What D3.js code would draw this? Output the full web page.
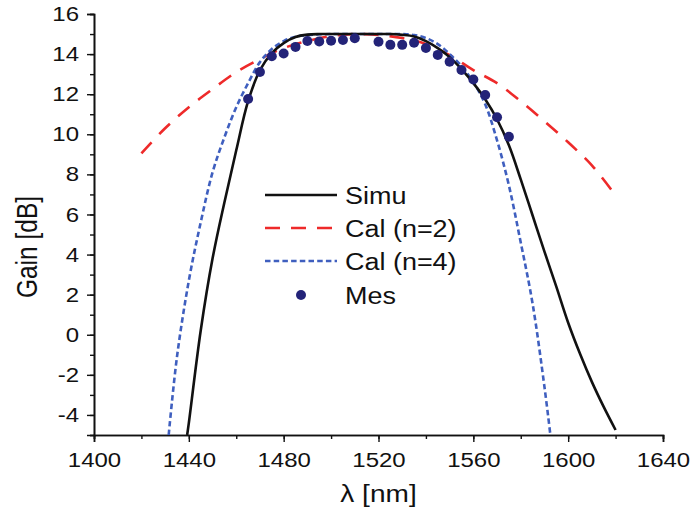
<!DOCTYPE html>
<html><head><meta charset="utf-8">
<script src="https://cdn.jsdelivr.net/npm/d3@7"></script>
<style>body{margin:0;background:#fff}svg{display:block}text{font-family:"Liberation Sans",Arial,sans-serif;fill:#111}</style>
</head><body>
<svg id="c" width="692" height="518"></svg>
<script>
// ---- data ----
const simuX = [1439.3,1440,1445,1450,1455,1460,1465,1470,1475,1480,1485,1490,1495,1500,1510,1520,1525,1530,1535,1540,1545,1550,1555,1560,1565,1570,1575,1580,1585,1590,1595,1600,1605,1610,1615,1620];
const simuY = [-5,-4.4,0.2,3.8,6.6,9.2,11.65,13.2,14.05,14.55,14.85,14.97,15.0,15.0,15.0,15.0,15.0,14.96,14.88,14.65,14.3,13.85,13.25,12.55,11.75,10.75,9.45,7.75,5.95,4.15,2.4,0.6,-0.95,-2.35,-3.6,-4.75];
const cal2X = [1420,1430,1440,1450,1460,1470,1480,1490,1500,1510,1520,1530,1540,1550,1560,1570,1580,1590,1600,1610,1620];
const cal2Y = [9.05,10.3,11.35,12.25,13.1,13.75,14.3,14.65,14.9,15.0,14.95,14.8,14.5,13.95,13.2,12.55,11.65,10.65,9.6,8.45,6.95];
const cal4X = [1431.5,1435,1440,1445,1450,1455,1460,1465,1470,1475,1480,1485,1490,1500,1510,1520,1530,1535,1540,1545,1550,1555,1560,1565,1570,1575,1580,1585,1590,1592.5];
const cal4Y = [-5,-1.1,2.7,5.6,8.1,9.85,11.35,12.55,13.6,14.25,14.65,14.87,14.95,15.0,15.0,15.0,15.0,14.95,14.8,14.5,14.0,13.4,12.6,11.5,9.7,7.45,4.6,1.55,-2.6,-5];
const mesX = [1465,1470,1475,1480,1485,1490,1495,1500,1505,1510,1520,1525,1530,1535,1540,1545,1550,1555,1560,1565,1570,1575];
const mesY = [11.76,13.11,13.89,14.03,14.36,14.65,14.63,14.67,14.70,14.79,14.62,14.46,14.46,14.57,14.30,13.96,13.62,13.21,12.73,11.96,10.85,9.88];
const xTicks = [1400,1440,1480,1520,1560,1600,1640];
const yTicks = [-4,-2,0,2,4,6,8,10,12,14,16];
const legendLabels = ["Simu","Cal (n=2)","Cal (n=4)","Mes"];

// ---- layout ----
const svg = d3.select("#c");
const L = 94, R = 663, T = 14, B = 435;
const SX = 1.17; // horizontal stretch of the original lettering
const x = d3.scaleLinear().domain([1400,1640]).range([L,R]);
const y = d3.scaleLinear().domain([-5,16]).range([B,T]);

svg.append("defs").append("clipPath").attr("id","clip")
  .append("rect").attr("x",L).attr("y",T-2).attr("width",R-L+2).attr("height",B-T+2);

// axes
const fmt = d => String(d);
const xMinor = d3.range(1400,1641,20);
const yMinor = d3.range(-5,16.01,1);
const gx = svg.append("g").attr("transform",`translate(0,${B})`);
gx.call(d3.axisBottom(x).tickValues(xMinor).tickSize(4).tickFormat(""));
gx.append("g").call(d3.axisBottom(x).tickValues(xTicks).tickSize(7).tickPadding(10).tickFormat(fmt));
const gy = svg.append("g").attr("transform",`translate(${L},0)`);
gy.call(d3.axisLeft(y).tickValues(yMinor).tickSize(4).tickFormat(""));
gy.append("g").call(d3.axisLeft(y).tickValues(yTicks).tickSize(7).tickPadding(8).tickFormat(fmt));
svg.selectAll(".domain").attr("stroke","#111").attr("stroke-width",1.6);
svg.selectAll(".tick line").attr("stroke","#111").attr("stroke-width",1.4);
svg.selectAll(".tick text").attr("font-size",20.5).attr("fill","#111")
  .style("font-family",'"Liberation Sans",Arial,sans-serif')
  .each(function(){
    const t = d3.select(this);
    const ox = +t.attr("x") || 0;
    t.attr("x", ox/SX).attr("transform",`scale(${SX},1)`);
  });
gx.selectAll("text").attr("dy","0.72em");

// axis titles
svg.append("text").attr("transform",`translate(${(L+R)/2},502) scale(${SX},1)`).attr("text-anchor","middle")
  .attr("font-size",24).text("λ [nm]");
svg.append("text").attr("transform",`translate(37,247) rotate(-90) scale(1,${SX})`)
  .attr("text-anchor","middle").attr("font-size",24.5).text("Gain [dB]");

// series
const plot = svg.append("g").attr("clip-path","url(#clip)");
const line = d3.line().x(d=>x(d[0])).y(d=>y(d[1])).curve(d3.curveCatmullRom.alpha(0.5));
const zip = (a,b)=>a.map((v,i)=>[v,b[i]]);

const styles = [
  {stroke:"#111111", dash:null, w:2.6},
  {stroke:"#ee2a2a", dash:"15,11", w:2.6},
  {stroke:"#3f5fbf", dash:"5.5,3.2", w:2.6}
];
plot.append("path").datum(zip(cal2X,cal2Y)).attr("d",line).attr("fill","none")
  .attr("stroke",styles[1].stroke).attr("stroke-width",styles[1].w).attr("stroke-dasharray",styles[1].dash);
plot.append("path").datum(zip(cal4X,cal4Y)).attr("d",line).attr("fill","none")
  .attr("stroke",styles[2].stroke).attr("stroke-width",styles[2].w).attr("stroke-dasharray",styles[2].dash);
plot.append("path").datum(zip(simuX,simuY)).attr("d",line).attr("fill","none")
  .attr("stroke",styles[0].stroke).attr("stroke-width",styles[0].w);
plot.selectAll("circle.m").data(zip(mesX,mesY)).join("circle").attr("class","m")
  .attr("cx",d=>x(d[0])).attr("cy",d=>y(d[1])).attr("r",5).attr("fill","#232378");

// legend
const lg = svg.append("g");
const ly = [195,228,261,295];
legendLabels.forEach((lab,i)=>{
  if(i<3){
    lg.append("line").attr("x1",265).attr("x2",337).attr("y1",ly[i]).attr("y2",ly[i])
      .attr("stroke",styles[i].stroke).attr("stroke-width",styles[i].w)
      .attr("stroke-dasharray",styles[i].dash);
  } else {
    lg.append("circle").attr("cx",301).attr("cy",ly[i]).attr("r",5).attr("fill","#232378");
  }
  lg.append("text").attr("transform",`translate(345,${ly[i]}) scale(1.1,1)`)
    .attr("dy","0.36em").attr("font-size",24.5).text(lab);
});
</script>
</body></html>
